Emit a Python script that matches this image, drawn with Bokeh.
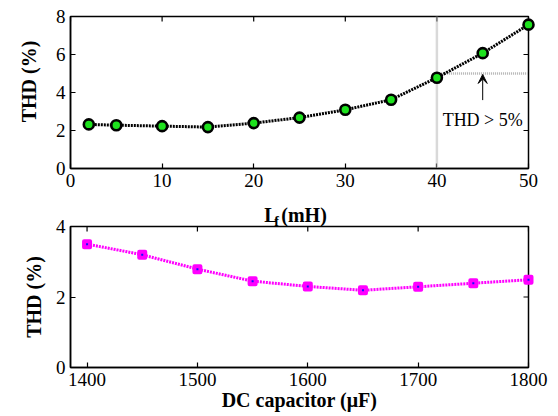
import math
from bokeh.plotting import figure
from bokeh.layouts import column
from bokeh.models import FixedTicker, Label, Span, Arrow, VeeHead, Range1d
from bokeh.core.properties import value
from bokeh.embed import file_html
from bokeh.resources import INLINE

# ---- data ----
lf_mH = [2, 5, 10, 15, 20, 25, 30, 35, 40, 45, 50]
thd_lf = [2.32, 2.28, 2.23, 2.18, 2.39, 2.68, 3.09, 3.62, 4.78, 6.07, 7.57]
dc_cap_uF = [1400, 1450, 1500, 1550, 1600, 1650, 1700, 1750, 1800]
thd_dc = [3.5, 3.2, 2.79, 2.45, 2.3, 2.19, 2.29, 2.39, 2.49]
lf_ticks = [0, 10, 20, 30, 40, 50]
thd1_ticks = [0, 2, 4, 6, 8]
dc_ticks = [1400, 1500, 1600, 1700, 1800]
thd2_ticks = [0, 2, 4]
limit_lf = 40
limit_thd = 5

FONT = "Liberation Serif"
TICK_FS = "19px"
LAB_FS = "20px"


def style_axis(ax, ticks):
    ax.ticker = FixedTicker(ticks=ticks)
    ax.axis_line_color = "black"
    ax.axis_line_width = 1.5
    ax.major_tick_in = 5
    ax.major_tick_out = 0
    ax.major_tick_line_color = "black"
    ax.major_tick_line_width = 1.2
    ax.minor_tick_line_color = None
    ax.major_label_text_font = FONT
    ax.major_label_text_color = "black"
    ax.major_label_text_font_size = TICK_FS
    ax.major_label_standoff = 5
    ax.axis_label_text_font = FONT
    ax.axis_label_text_font_size = LAB_FS
    ax.axis_label_text_font_style = "bold"
    ax.axis_label_text_color = "black"


def mirror_ticks(p, xt, yt, xmax, ymax):
    # inward tick marks on the top and right edges (outer half clipped by the frame)
    p.scatter(xt, [ymax] * len(xt), marker="dash", angle=math.pi / 2, size=10,
              line_color="black", line_width=1.2)
    p.scatter([xmax] * len(yt), yt, marker="dash", size=10,
              line_color="black", line_width=1.2)


def bold_text(p, x, y, txt, fs, align, baseline="alphabetic", angle=0.0):
    p.text(x=[x], y=[y], text=[txt], text_font=value(FONT), text_font_size=fs,
           text_font_style="bold", text_align=align, text_baseline=baseline,
           text_color="black", angle=angle, level="overlay")


# ---- top plot: THD vs Lf ----
p1 = figure(width=558, height=200, output_backend="svg", toolbar_location=None,
            x_range=Range1d(0, 50), y_range=Range1d(0, 8),
            min_border_left=68, min_border_right=28, min_border_top=16, min_border_bottom=32)
p1.grid.visible = False
p1.outline_line_color = "black"
p1.outline_line_width = 1.5
ax1x = p1.below[0]
ax1y = p1.left[0]
style_axis(ax1x, lf_ticks)
style_axis(ax1y, thd1_ticks)
mirror_ticks(p1, lf_ticks, thd1_ticks, 50, 8)
bold_text(p1, -4.49, 4.58, "THD (%)", LAB_FS, "center", "middle", math.pi / 2)

p1.add_layout(Span(location=limit_lf, dimension="height", line_color="#b4b4b4",
                   line_width=2.5, line_dash="1 1"))
p1.segment(x0=[limit_lf], y0=[limit_thd], x1=[lf_mH[-1]], y1=[limit_thd],
           line_color="#b4b4b4", line_width=2.5, line_dash="1 1")

p1.line(lf_mH, thd_lf, line_color="black", line_width=3, line_dash="2 1")
p1.scatter(lf_mH, thd_lf, marker="circle", size=10, fill_color="#1ee21e",
           line_color="black", line_width=2.6, level="overlay")

p1.add_layout(Arrow(end=VeeHead(size=9, fill_color="black", line_color="black", line_width=1),
                    x_start=45, y_start=3.6, x_end=45, y_end=4.95,
                    line_color="black", line_width=1))
p1.add_layout(Label(x=45, y=2.53, text="THD > 5%", text_font=FONT, text_font_size="18px",
                    text_align="center", text_baseline="alphabetic", text_color="black"))

# ---- bottom plot: THD vs DC capacitor ----
p2 = figure(width=558, height=214, output_backend="svg", toolbar_location=None,
            x_range=Range1d(1385, 1800), y_range=Range1d(0, 4),
            min_border_left=70, min_border_right=30, min_border_top=26, min_border_bottom=47)
p2.grid.visible = False
p2.outline_line_color = "black"
p2.outline_line_width = 1.5
ax2x = p2.below[0]
ax2y = p2.left[0]
style_axis(ax2x, dc_ticks)
style_axis(ax2y, thd2_ticks)
ax2x.axis_label = "DC capacitor (\u03bcF)"
ax2y.axis_label = "THD (%)"
ax2x.axis_label_standoff = 0
ax2y.axis_label_standoff = 8
mirror_ticks(p2, dc_ticks, thd2_ticks, 1800, 4)

p2.line(dc_cap_uF, thd_dc, line_color="#ff00ff", line_width=3, line_dash="2 1")
p2.scatter(dc_cap_uF, thd_dc, marker="square", size=6, fill_color="#1010ff",
           line_color="#ff00ff", line_width=4, line_join="round", level="overlay")

# x-axis label of the top plot (L with subscript f), drawn above the lower frame
bold_text(p2, 1572.6, 4.338, "L", LAB_FS, "right")
bold_text(p2, 1569.6, 4.14, "f", "14px", "left")
bold_text(p2, 1576.0, 4.338, "(mH)", LAB_FS, "left")

layout = column(p1, p2, spacing=0)
open("out.html", "w").write(file_html(layout, INLINE))
